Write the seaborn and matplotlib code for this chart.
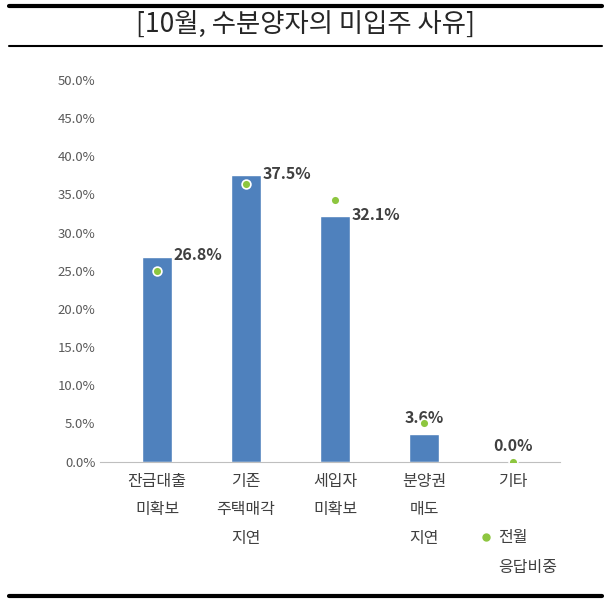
import matplotlib
matplotlib.use("Agg")
import matplotlib.pyplot as plt
import seaborn as sns
import pandas as pd

categories = ["잔금대출\n미확보", "기존\n주택매각\n지연", "세입자\n미확보", "분양권\n매도\n지연", "기타"]
current = [26.8, 37.5, 32.1, 3.6, 0.0]
previous = [25.0, 36.3, 34.2, 5.0, 0.0]
labels = ["26.8%", "37.5%", "32.1%", "3.6%", "0.0%"]

sns.set_style("white")
plt.rcParams['font.family'] = ['Noto Sans CJK KR', 'DejaVu Sans']

fig = plt.figure(figsize=(6.11, 6.09), dpi=100)
ax = fig.add_axes([0.164, 0.242, 0.753, 0.627])
df = pd.DataFrame({"cat": categories, "v": current})
sns.barplot(data=df, x="cat", y="v", color="#4f81bd", width=0.34, ax=ax, saturation=1)
ax.scatter(range(5), previous, color="#8dc63f", s=40, zorder=5, edgecolor="white", linewidth=1.2)
for i, (v, l) in enumerate(zip(current, labels)):
    if i < 3:
        ax.text(i + 0.18, v + 0.2, l, fontsize=11.5, fontweight="bold", color="#404040", ha="left", va="center")
    else:
        ax.text(i, v + 1.0, l, fontsize=11.5, fontweight="bold", color="#404040", ha="center", va="bottom")
ax.set_ylim(0, 50)
ax.set_xlim(-0.64, 4.53)
ax.set_yticks(range(0, 51, 5))
ax.set_yticklabels([f"{t:.1f}%" for t in range(0, 51, 5)], fontsize=9.5, color="#595959")
ax.tick_params(axis="x", labelsize=11.5, colors="#404040", length=0, pad=8)
ax.set_xlabel(""); ax.set_ylabel("")
for s in ["top", "right", "left"]:
    ax.spines[s].set_visible(False)
ax.spines["bottom"].set_color("#bfbfbf")
ax.tick_params(axis="y", length=0)
for t in ax.get_xticklabels():
    t.set_linespacing(1.9)

fig.text(0.5, 0.958, "[10월, 수분양자의 미입주 사유]", ha="center", va="center", fontsize=19)
fig.add_artist(plt.Line2D([0.015, 0.985], [0.99, 0.99], color="black", lw=3))
fig.add_artist(plt.Line2D([0.015, 0.985], [0.925, 0.925], color="black", lw=1.5))
fig.add_artist(plt.Line2D([0.015, 0.985], [0.022, 0.022], color="black", lw=3))
fig.add_artist(plt.Line2D([0.795], [0.118], marker="o", color="#8dc63f", markersize=5))
fig.text(0.815, 0.118, "전월", fontsize=11.5, color="#404040", va="center")
fig.text(0.815, 0.068, "응답비중", fontsize=11.5, color="#404040", va="center")
fig.savefig("out.png", dpi=100)
